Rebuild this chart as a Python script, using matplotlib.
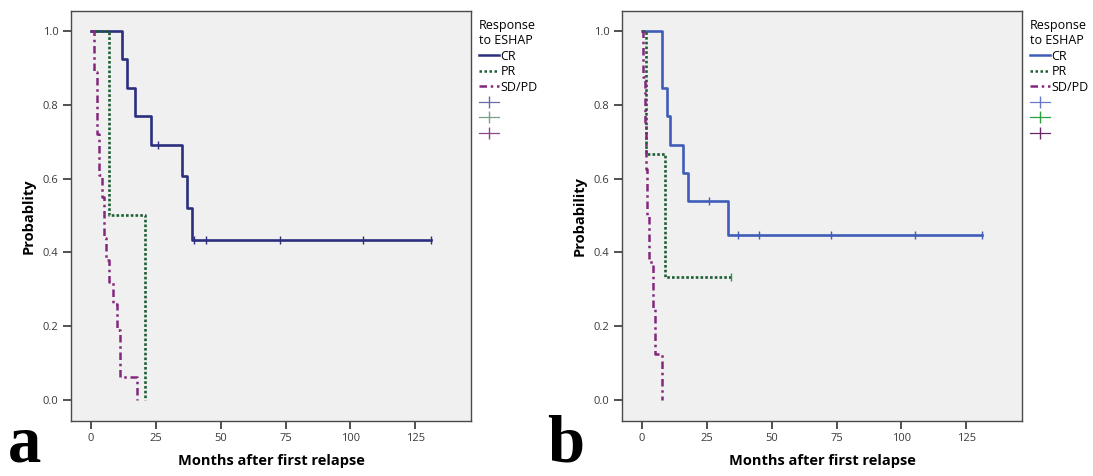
import matplotlib
matplotlib.use("Agg")
import matplotlib.pyplot as plt
from matplotlib.lines import Line2D

plt.rcParams['font.family'] = ['Open Sans', 'DejaVu Sans']

# panel a - step times (months) and survival after each step
a_cr_t = [0, 12, 14, 17, 23, 35, 37, 39, 131]
a_cr_s = [1.0, 0.923, 0.846, 0.769, 0.692, 0.606, 0.519, 0.433, 0.433]
a_cr_cens_t = [25.7, 39.6, 44.5, 72.8, 105, 131]
a_cr_cens_s = [0.692, 0.433, 0.433, 0.433, 0.433, 0.433]

a_pr_t = [0, 6.8, 20.9]
a_pr_s = [1.0, 0.5, 0.0]

a_sd_t = [0, 1.2, 2.2, 3.2, 4.1, 5.2, 5.9, 7.1, 8.6, 10.2, 11.0, 17.9]
a_sd_s = [1.0, 0.89, 0.72, 0.61, 0.55, 0.44, 0.38, 0.32, 0.26, 0.19, 0.063, 0.0]

# panel b
b_cr_t = [0, 7.8, 9.8, 10.7, 15.9, 17.9, 33.1, 131]
b_cr_s = [1.0, 0.846, 0.769, 0.692, 0.615, 0.538, 0.448, 0.448]
b_cr_cens_t = [25.8, 37, 45, 73, 105.2, 131.2]
b_cr_cens_s = [0.538, 0.448, 0.448, 0.448, 0.448, 0.448]

b_pr_t = [0, 1.7, 8.8, 34.4]
b_pr_s = [1.0, 0.667, 0.333, 0.333]
b_pr_cens_t = [34.4]
b_pr_cens_s = [0.333]

b_sd_t = [0, 0.3, 1.2, 1.5, 1.8, 2.9, 4.1, 5.0, 7.8]
b_sd_s = [1.0, 0.875, 0.75, 0.625, 0.5, 0.375, 0.25, 0.125, 0.0]

xticks = [0, 25, 50, 75, 100, 125]
yticks = [0.0, 0.2, 0.4, 0.6, 0.8, 1.0]
groups = ['CR', 'PR', 'SD/PD']

fig = plt.figure(figsize=(10.93, 4.76), dpi=100)
W, H = 1093, 476


def make_axes(left, right):
    return fig.add_axes([left / W, (H - 420.5) / H, (right - left) / W, (420.5 - 11) / H])


def style(ax, ylab):
    ax.set_facecolor('#eff0ef')
    ax.set_xlim(-7.7, 146.5)
    ax.set_ylim(-0.0556, 1.054)
    ax.set_xticks(xticks)
    ax.set_yticks(yticks)
    ax.set_yticklabels(['%.1f' % v for v in yticks])
    ax.tick_params(length=6, width=1.2, color='#333333', labelsize=8, labelcolor='#3a3a3a', pad=3)
    for s in ax.spines.values():
        s.set_color('#4a4a4a')
        s.set_linewidth(1.0)
    ax.set_xlabel('Months after first relapse', fontsize=10.5, fontweight='bold', labelpad=7)
    ax.set_ylabel(ylab, fontsize=10.5, fontweight='bold', labelpad=5)


def legend(ax, cols, mcols):
    handles = [Line2D([], [], color=cols[0], lw=1.8, ls='-'),
               Line2D([], [], color=cols[1], lw=1.8, ls=(0, (1, 1))),
               Line2D([], [], color=cols[2], lw=1.8, ls=(0, (3, 1.5, 1, 1.5))),
               Line2D([], [], color=mcols[0], lw=0.9, marker='|', ms=8),
               Line2D([], [], color=mcols[1], lw=0.9, marker='|', ms=8),
               Line2D([], [], color=mcols[2], lw=0.9, marker='|', ms=8)]
    leg = ax.legend(handles, groups + ['', '', ''], loc='upper left', bbox_to_anchor=(1.0, 1.0),
                    frameon=False, fontsize=9, title='Response\nto ESHAP', title_fontsize=9,
                    handlelength=1.6, handletextpad=0.1, labelspacing=0.2, borderaxespad=0.3,
                    borderpad=0.35)
    leg._legend_box.align = 'left'


# ---- panel a
ax1 = make_axes(71, 471)
c1 = ['#2b2f7d', '#1e5e35', '#84287c']
ax1.step(a_cr_t, a_cr_s, where='post', color=c1[0], lw=1.9)
ax1.step(a_pr_t, a_pr_s, where='post', color=c1[1], lw=1.9, ls=(0, (1, 0.8)))
ax1.step(a_sd_t, a_sd_s, where='post', color=c1[2], lw=1.8, ls=(0, (3, 1.5, 1, 1.5)))
ax1.plot(a_cr_cens_t, a_cr_cens_s, ls='none', marker='|', ms=6, mew=1, color='#2b2f7d')
style(ax1, 'Probablity')
legend(ax1, c1, ['#6a6aa8', '#7aa08a', '#8a4a8a'])

# ---- panel b
ax2 = make_axes(622, 1022)
c2 = ['#3f5db8', '#1e5e35', '#84287c']
ax2.step(b_cr_t, b_cr_s, where='post', color=c2[0], lw=1.9)
ax2.step(b_pr_t, b_pr_s, where='post', color=c2[1], lw=1.9, ls=(0, (1, 0.8)))
ax2.step(b_sd_t, b_sd_s, where='post', color=c2[2], lw=1.8, ls=(0, (3, 1.5, 1, 1.5)))
ax2.plot(b_cr_cens_t, b_cr_cens_s, ls='none', marker='|', ms=6, mew=1, color='#3f5db8')
ax2.plot(b_pr_cens_t, b_pr_cens_s, ls='none', marker='|', ms=6, mew=1, color='#2a9a40')
style(ax2, 'Probability')
legend(ax2, c2, ['#6a78c8', '#2aa040', '#6a2a6a'])

# panel letters
fig.text(8 / W, 0.0, 'a', family='Liberation Serif', fontsize=48, fontweight='bold', va='bottom')
fig.text(547 / W, 0.0, 'b', family='Liberation Serif', fontsize=48, fontweight='bold', va='bottom')

fig.savefig('out.png', dpi=100)
